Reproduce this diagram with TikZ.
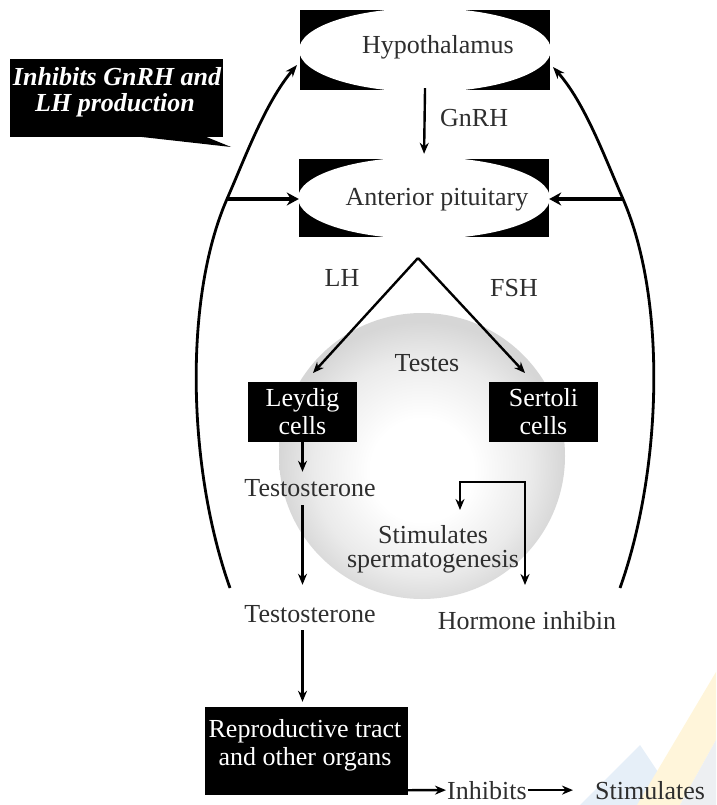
\documentclass[tikz,border=0pt]{standalone}
\usepackage{fontspec}
\setmainfont{Liberation Serif}
\usetikzlibrary{arrows.meta,shapes.geometric}
\pgfdeclareradialshading{testesshade}{\pgfpoint{0bp}{-3bp}}{color(0bp)=(white); color(9bp)=(white); color(19bp)=(black!8); color(25bp)=(black!16); color(50bp)=(black!16)}
\definecolor{wmyellow}{HTML}{FFF5DA}
\definecolor{wmblue}{HTML}{E6EFF8}
\definecolor{wmgray}{HTML}{EDEFF2}
\begin{document}
\begin{tikzpicture}[x=1pt,y=-1pt,
  font=\fontsize{26}{28}\selectfont,
  blackbox/.style={fill=black, text=white, inner sep=0pt, align=center},
  lbl/.style={text=black!82, inner sep=0pt},
  whitetxt/.style={text=white, inner sep=0pt},
  arr/.style={line width=2.4pt, -{Stealth[length=11pt,width=9pt]}},
  thickarr/.style={line width=4.5pt, -{Stealth[length=12pt,width=13pt]}},
  fb/.style={line width=2.8pt, -{Stealth[length=12pt,width=9pt]}},
  oval/.style={ellipse, fill=white, inner sep=0pt}]
\useasboundingbox (0,0) rectangle (716,805);

% faint watermark
\fill[wmblue] (580,805) -- (640,745) -- (660,775) -- (645,805) -- cycle;
\fill[wmyellow] (637,805) -- (716,672) -- (716,740) -- (680,805) -- cycle;
\fill[wmgray] (680,805) -- (716,740) -- (716,805) -- cycle;

% testes background
\path[shading=testesshade] (422,456) circle [radius=143pt];

% hypothalamus
\node[blackbox, minimum width=250pt, minimum height=80pt] (hyp) at (425,50) {};
\node[oval, minimum width=252pt, minimum height=84pt] (hypE) at (hyp.center) {};
\node[lbl, anchor=base] (hypT) at (438,54) {Hypothalamus};

% anterior pituitary
\node[blackbox, minimum width=250pt, minimum height=78pt] (ant) at (424,198) {};
\node[oval, minimum width=252pt, minimum height=82pt] (antE) at (ant.center) {};
\node[lbl, anchor=base] (antT) at (437,205) {Anterior pituitary};

\draw[arr, shorten <=-2pt, shorten >=5pt] (hyp.south) -- (ant.north);
\node[lbl, anchor=base west] (gnrh) at (440,127) {GnRH};

% callout
\node[blackbox, minimum width=213pt, minimum height=78pt] (call) at (116.5,98) {};
\fill (133,136) -- (204,136) -- (231,147) -- cycle;
\node[whitetxt, anchor=base, font=\fontsize{26}{28}\selectfont\bfseries\itshape] (callA) at (117,86) {Inhibits GnRH and};
\node[whitetxt, anchor=base, font=\fontsize{26}{28}\selectfont\bfseries\itshape] (callB) at (115,112) {LH production};

% feedback curves
\coordinate (lb) at (230,588);
\coordinate (lm) at (227,199);
\coordinate (lt) at (297,65);
\coordinate (rb) at (620,588);
\coordinate (rm) at (623,199);
\coordinate (rt) at (553,67);
\draw[fb] (lb) .. controls (188,470) and (183,300) .. (lm) .. controls (245,158) and (265,103) .. (lt);
\draw[fb] (rb) .. controls (662,470) and (667,300) .. (rm) .. controls (605,158) and (585,103) .. (rt);
\draw[thickarr] (lm) -- (lm -| ant.west);
\draw[thickarr] (rm) -- (rm -| ant.east);

% LH / FSH split
\coordinate (apex) at (418,258);
\coordinate (leyIn) at (313,373);
\coordinate (serIn) at (525,373);
\draw[arr] (apex) -- (leyIn);
\draw[arr] (apex) -- (serIn);
\node[lbl, anchor=base] (lh) at (342,286) {LH};
\node[lbl, anchor=base] (fsh) at (514,296) {FSH};
\node[lbl, anchor=base] (testes) at (427,371) {Testes};

% cells
\node[blackbox, minimum width=109pt, minimum height=60pt] (ley) at (302.5,412) {Leydig\\cells};
\node[blackbox, minimum width=109pt, minimum height=60pt] (ser) at (543.5,412) {Sertoli\\cells};

% testosterone chain
\node[lbl, anchor=base] (t1) at (310,496) {Testosterone};
\node[lbl, anchor=base] (t2) at (310,622) {Testosterone};
\draw[arr, shorten >=7pt] (ley.south) -- (ley.south |- t1.north);
\draw[arr, shorten <=9pt, shorten >=20pt] (t1.south -| ley.south) -- (t2.north -| ley.south);

% sertoli outputs
\node[lbl, anchor=north, align=center, font=\fontsize{26}{24}\selectfont] (stsp) at (433,525) {Stimulates\\spermatogenesis};
\node[lbl, anchor=base] (inhib) at (527,629) {Hormone inhibin};
\coordinate (bl) at (460,510);
\coordinate (bc1) at (460,482);
\coordinate (bc2) at (525,482);
\coordinate (br) at (525,585);
\draw[line width=2.4pt, {Stealth[length=11pt,width=9pt]}-{Stealth[length=11pt,width=9pt]}] (bl) -- (bc1) -- (bc2) -- (br);

% reproductive tract
\node[blackbox, minimum width=203pt, minimum height=88pt] (rep) at (306.5,751) {};
\node[whitetxt, anchor=north, align=center] (repT) at (305,719) {Reproductive tract\\and other organs};
\draw[arr, shorten <=8pt, shorten >=5pt] (t2.south -| ley.south) -- (rep.north -| ley.south);

% legend
\node[lbl, anchor=base west] (inh) at (447,799) {Inhibits};
\node[lbl, anchor=base west] (stim) at (595,799) {Stimulates};
\draw[arr, shorten >=1pt] ([yshift=5pt]rep.south east) -- (inh.west);
\draw[arr, shorten <=1pt, shorten >=22pt] (inh.east) -- (stim.west);
\end{tikzpicture}
\end{document}
